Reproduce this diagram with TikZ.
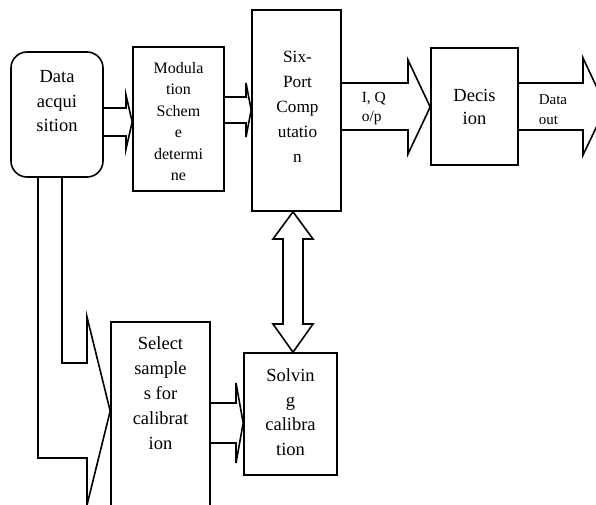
\documentclass[tikz,border=0pt]{standalone}
\usepackage{fontspec}
\setmainfont{Liberation Serif}
\begin{document}
\begin{tikzpicture}[x=1pt,y=-1pt,line width=1.6pt,line join=miter,
  box/.style={draw,rectangle,inner sep=0pt},
  txt/.style={inner sep=0pt,align=center},
  blk/.style={draw,line width=1.6pt,line join=miter}]
\useasboundingbox (0,0) rectangle (596,505);
\clip (0,0) rectangle (596,505);
% boxes
\node[box,rounded corners=16pt,minimum width=92pt,minimum height=125pt] (data) at (57,114.5) {};
\node[box,minimum width=91pt,minimum height=144pt] (mod) at (178.5,119) {};
\node[box,minimum width=89pt,minimum height=201pt] (six) at (296.5,110.5) {};
\node[box,minimum width=87pt,minimum height=117pt] (dec) at (474.5,106.5) {};
\node[box,minimum width=99pt,minimum height=208pt] (sel) at (160.5,426) {};
\node[box,minimum width=93pt,minimum height=122pt] (sol) at (290.5,414) {};
% texts
\node[txt,font=\fontsize{18.5}{24.5}\selectfont] (dataT) at (57,101.5) {Data\\acqui\\sition};
\node[txt,font=\fontsize{16}{21.4}\selectfont] (modT) at (178.5,121.5) {Modula\\tion\\Schem\\e\\determi\\ne};
\node[txt,font=\fontsize{17.2}{25}\selectfont] (sixT) at (297.5,107) {Six-\\Port\\Comp\\utatio\\n};
\node[txt,font=\fontsize{18.5}{23}\selectfont] (decT) at (474.5,106.5) {Decis\\ion};
\node[txt,font=\fontsize{18.5}{25}\selectfont] (selT) at (160.5,393) {Select\\sample\\s for\\calibrat\\ion};
\node[txt,font=\fontsize{18.5}{24.5}\selectfont] (solT) at (290.5,412) {Solvin\\g\\calibra\\tion};
\node[txt,align=left,anchor=west,font=\fontsize{15.5}{19}\selectfont] (iqT) at (361,109) {I, Q\\o/p};
\node[txt,align=left,anchor=west,font=\fontsize{15}{20}\selectfont] (outT) at (538,110) {Data\\out};
% block arrows
\draw[blk] (data.east |- 0,108) -- (126,108) -- (126,95) -- (mod.west |- 0,122) -- (126,149) -- (126,136) -- (data.east |- 0,136);
\draw[blk] (mod.east |- 0,97) -- (246,97) -- (246,83) -- (six.west |- 0,110) -- (246,137) -- (246,123) -- (mod.east |- 0,123);
\draw[blk] (six.east |- 0,83) -- (408,83) -- (408,60) -- (dec.west |- 0,107) -- (408,154) -- (408,130) -- (six.east |- 0,130);
\draw[blk] (dec.east |- 0,83) -- (583,83) -- (583,58) -- (606,107) -- (583,155) -- (583,130) -- (dec.east |- 0,130);
\draw[blk] (293,0 |- six.south) -- (313,239) -- (303,239) -- (303,324) -- (313,324) -- (293,0 |- sol.north) -- (273,324) -- (283,324) -- (283,239) -- (273,239) -- cycle;
\draw[blk] (sel.east |- 0,403) -- (236,403) -- (236,383) -- (sol.west |- 0,423) -- (236,463) -- (236,443) -- (sel.east |- 0,443);
\draw[blk] (38,0 |- data.south) -- (38,458) -- (87,458) -- (87,505) -- (sel.west |- 0,411) -- (87,317) -- (87,363) -- (62,363) -- (62,0 |- data.south);
\end{tikzpicture}
\end{document}
